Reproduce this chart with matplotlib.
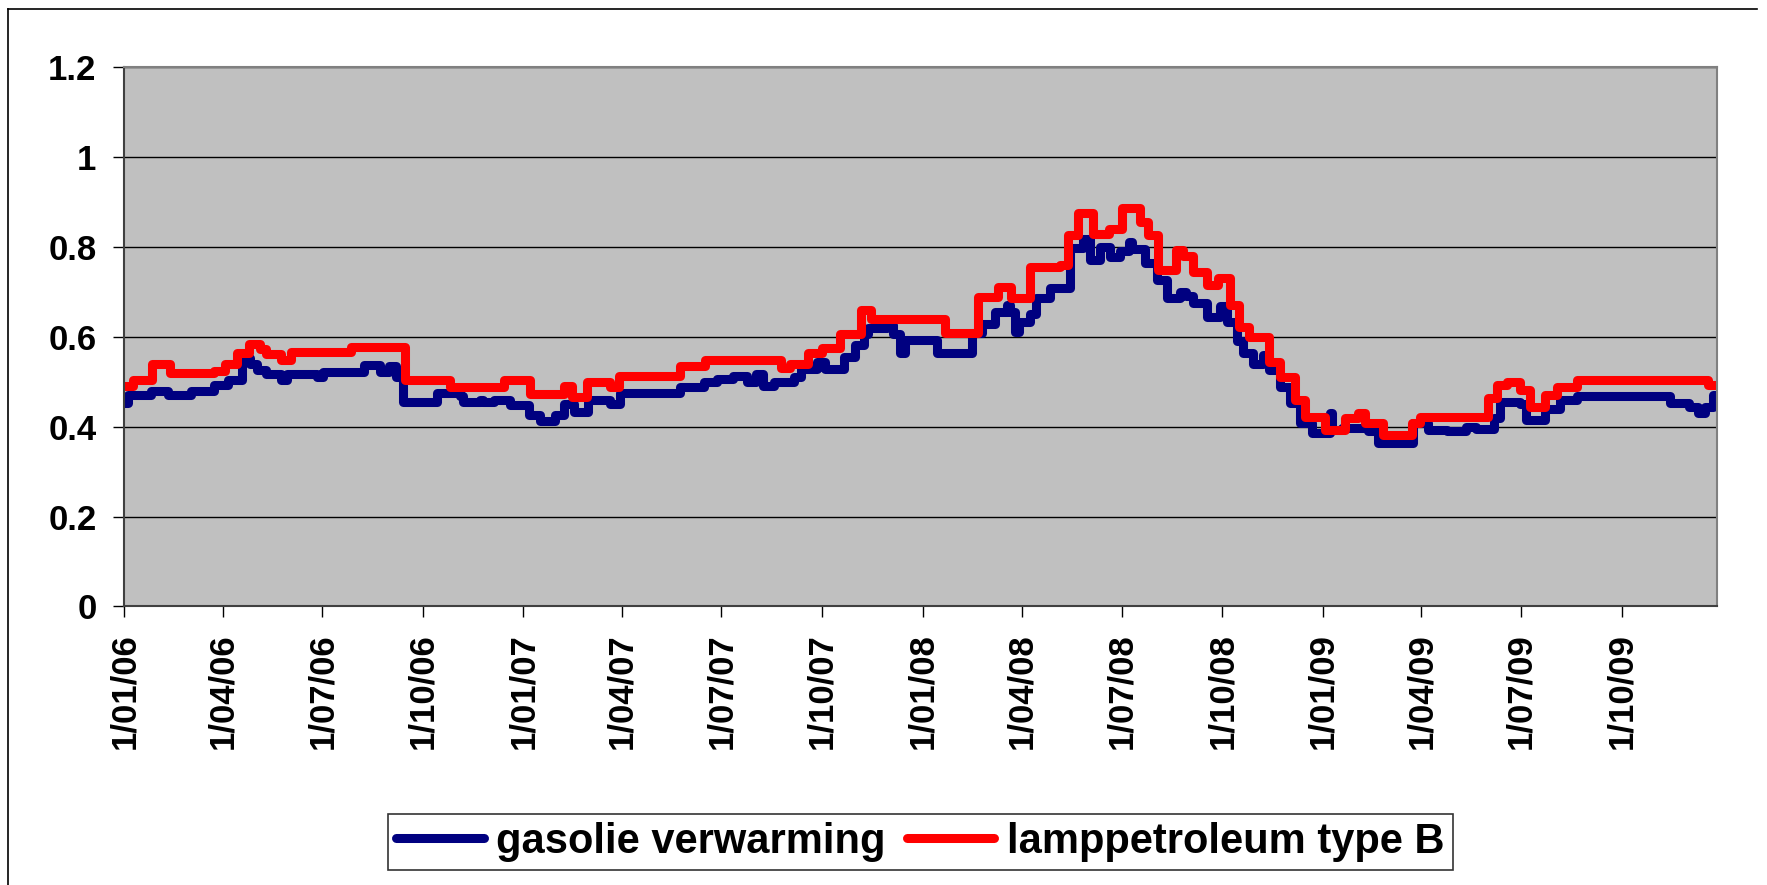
import numpy as np
import matplotlib
matplotlib.use('Agg')
import matplotlib.pyplot as plt
import matplotlib.dates as mdates
from matplotlib.lines import Line2D

# change points: day number counted from 1/01/06, price in EUR/l
gasolie_days = [0, 3, 24, 40, 61, 82, 95, 108, 115, 121, 130, 143, 149, 176, 182, 219, 234, 242,
                248, 255, 286, 307, 310, 325, 328, 338, 353, 370, 380, 394, 402, 411, 424, 444,
                453, 508, 530, 542, 557, 569, 578, 584, 594, 612, 619, 633, 641, 658, 668, 676,
                680, 697, 703, 709, 714, 743, 775, 784, 796, 807, 810, 814, 818, 828, 834, 846,
                865, 877, 883, 892, 901, 910, 919, 921, 933, 944, 953, 965, 971, 977, 990, 1002,
                1008, 1017, 1023, 1032, 1041, 1047, 1057, 1066, 1075, 1086, 1102, 1104, 1113,
                1137, 1146, 1178, 1192, 1209, 1227, 1236, 1252, 1258, 1276, 1282, 1299, 1313,
                1328, 1413, 1431, 1439, 1445, 1453, 1456]
gasolie_vals = [0.452, 0.470, 0.480, 0.470, 0.480, 0.492, 0.503, 0.552, 0.540, 0.526, 0.517, 0.503,
                0.517, 0.510, 0.522, 0.537, 0.522, 0.535, 0.510, 0.455, 0.474, 0.467, 0.455, 0.460,
                0.455, 0.460, 0.448, 0.426, 0.413, 0.426, 0.450, 0.433, 0.459, 0.450, 0.475, 0.487,
                0.500, 0.505, 0.512, 0.500, 0.517, 0.490, 0.500, 0.511, 0.529, 0.544, 0.529, 0.555,
                0.581, 0.605, 0.619, 0.625, 0.605, 0.563, 0.592, 0.563, 0.607, 0.629, 0.655, 0.670,
                0.655, 0.611, 0.633, 0.650, 0.685, 0.707, 0.796, 0.818, 0.770, 0.800, 0.777, 0.790,
                0.810, 0.795, 0.763, 0.726, 0.685, 0.700, 0.690, 0.674, 0.644, 0.668, 0.633, 0.590,
                0.563, 0.540, 0.560, 0.526, 0.489, 0.452, 0.407, 0.385, 0.430, 0.392, 0.396, 0.390,
                0.364, 0.407, 0.392, 0.390, 0.400, 0.394, 0.418, 0.455, 0.450, 0.414, 0.438, 0.459,
                0.468, 0.452, 0.444, 0.430, 0.444, 0.470, 0.470]

lamp_days = [0, 8, 25, 42, 82, 92, 103, 114, 124, 130, 143, 152, 207, 257, 298, 347, 371, 402,
             409, 423, 444, 452, 508, 531, 600, 609, 625, 638, 654, 674, 683, 750, 781, 799, 811,
             828, 856, 863, 872, 886, 900, 912, 929, 936, 945, 962, 968, 977, 990, 1000, 1011,
             1019, 1028, 1047, 1057, 1070, 1080, 1098, 1116, 1128, 1134, 1151, 1177, 1185, 1247,
             1255, 1264, 1276, 1285, 1299, 1310, 1328, 1448, 1456]
lamp_vals = [0.490, 0.503, 0.540, 0.518, 0.523, 0.540, 0.563, 0.583, 0.572, 0.562, 0.549, 0.565,
             0.577, 0.503, 0.487, 0.503, 0.472, 0.490, 0.466, 0.500, 0.487, 0.512, 0.534, 0.548,
             0.530, 0.540, 0.564, 0.574, 0.605, 0.659, 0.639, 0.608, 0.688, 0.711, 0.685, 0.755,
             0.760, 0.826, 0.874, 0.829, 0.840, 0.885, 0.855, 0.826, 0.749, 0.792, 0.780, 0.744,
             0.714, 0.731, 0.670, 0.622, 0.600, 0.544, 0.511, 0.459, 0.422, 0.392, 0.420, 0.430,
             0.407, 0.381, 0.407, 0.422, 0.463, 0.492, 0.500, 0.481, 0.444, 0.470, 0.489, 0.503,
             0.492, 0.492]

start = np.datetime64('2006-01-01')
gasolie_dates = start + np.array(gasolie_days, dtype='timedelta64[D]')
lamp_dates = start + np.array(lamp_days, dtype='timedelta64[D]')

plt.rcParams['font.family'] = ['Liberation Sans', 'DejaVu Sans']
plt.rcParams['font.weight'] = 'bold'

fig = plt.figure(figsize=(17.67, 8.85), dpi=100)
ax = fig.add_axes([0.07035, 0.3147, 0.90118, 0.60994])
ax.set_facecolor('#C0C0C0')

ax.plot(gasolie_dates, gasolie_vals, drawstyle='steps-post', color='#000080', lw=6.5,
        solid_joinstyle='round', solid_capstyle='round', label='gasolie verwarming')
ax.plot(lamp_dates, lamp_vals, drawstyle='steps-post', color='#FF0000', lw=6.5,
        solid_joinstyle='round', solid_capstyle='round', label='lamppetroleum type B')

ax.set_ylim(0, 1.2)
ax.set_yticks(np.arange(0, 1.21, 0.2))
ax.set_yticklabels(['0', '0.2', '0.4', '0.6', '0.8', '1', '1.2'])
ax.set_xlim(start, start + np.timedelta64(1456, 'D'))
ax.xaxis.set_major_locator(mdates.MonthLocator(bymonth=[1, 4, 7, 10]))
ax.xaxis.set_major_formatter(plt.FuncFormatter(
    lambda x, pos: (lambda d: f"{d.day}/{d.month:02d}/{d.year % 100:02d}")(mdates.num2date(x))))

ax.grid(axis='y', color='black', lw=1)
ax.set_axisbelow(True)
ax.tick_params(axis='both', direction='out', length=8, width=1, color='black', labelsize=25)
ax.tick_params(axis='x', rotation=90, pad=11)
ax.tick_params(axis='y', pad=12)
for sp in ax.spines.values():
    sp.set_color('#808080')
    sp.set_linewidth(1.5)
ax.spines['left'].set_color('#404040')
ax.spines['bottom'].set_color('#404040')

leg = ax.legend(loc='center', bbox_to_anchor=(0.5208, 0.0486), bbox_transform=fig.transFigure,
                ncol=2, fontsize=30, frameon=True, fancybox=False, edgecolor='black',
                handlelength=2.1, handletextpad=0.3, columnspacing=0.5, borderpad=0.2,
                borderaxespad=0)
leg.get_frame().set_linewidth(1.2)

# outer chart border (left and top visible)
fig.add_artist(Line2D([8 / 1767, 8 / 1767], [0, 1 - 9 / 885], color='black', lw=1.2))
fig.add_artist(Line2D([8 / 1767, 1757 / 1767], [1 - 9 / 885, 1 - 9 / 885], color='black', lw=1.2))

fig.savefig('out.png', dpi=100)
